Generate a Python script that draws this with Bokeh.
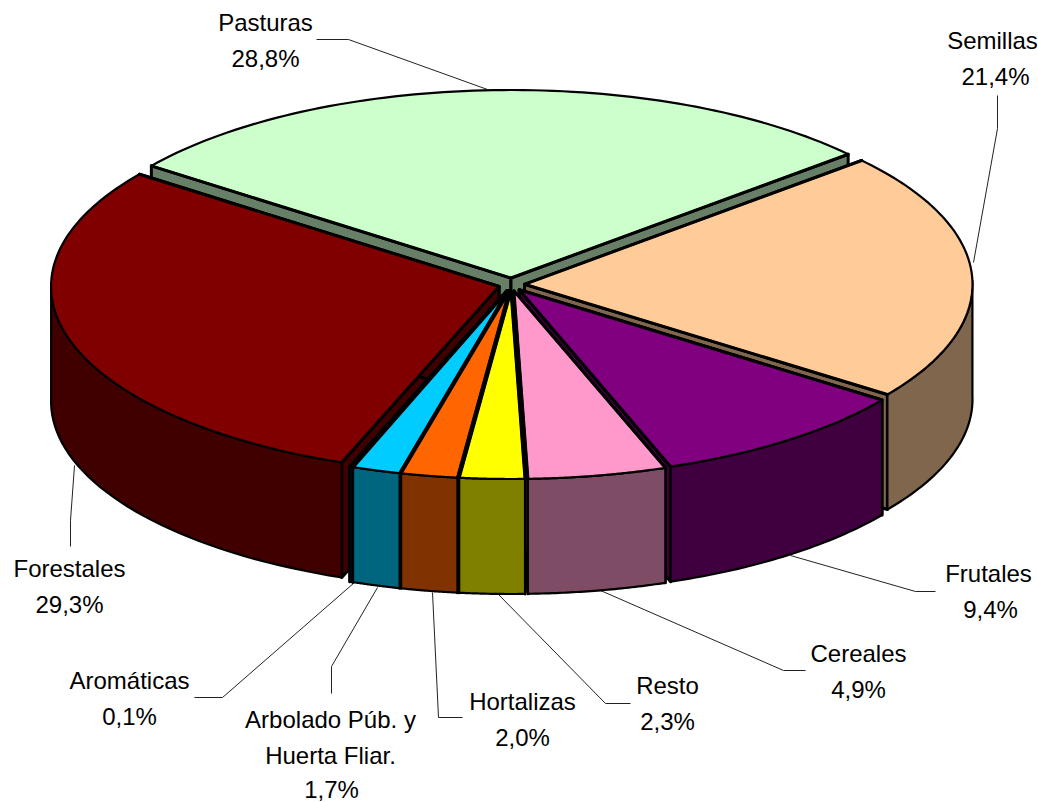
import math
from bokeh.plotting import figure
from bokeh.core.properties import value
from bokeh.embed import file_html
from bokeh.resources import INLINE

# ---- data
categories = ["Pasturas", "Semillas", "Frutales", "Cereales", "Resto",
              "Hortalizas", "Arbolado Púb. y Huerta Fliar.", "Aromáticas", "Forestales"]
shares = [28.8, 21.4, 9.4, 4.9, 2.3, 2.0, 1.7, 0.1, 29.3]
top_colors = ["#CCFFCC", "#FFCC99", "#800080", "#FF99CC", "#FFFF00",
              "#FF6600", "#00CCFF", "#0066CC", "#800000"]
side_colors = ["#667F66", "#7F664C", "#400040", "#7F4C66", "#808000",
               "#803300", "#006680", "#003366", "#400000"]
label_lines = ["Pasturas", "28,8%", "Semillas", "21,4%", "Frutales", "9,4%", "Cereales", "4,9%",
               "Resto", "2,3%", "Hortalizas", "2,0%", "Arbolado Púb. y", "Huerta Fliar.", "1,7%",
               "Aromáticas", "0,1%", "Forestales", "29,3%"]

# ---- layout
label_x = [265, 265, 992, 995, 988, 990, 858, 858, 667, 667, 522, 522, 330, 330, 331, 129, 129, 69, 69]
label_y = [22, 58, 40, 76, 573, 609, 653, 689, 685, 721, 701, 737, 719, 755, 789, 680, 716, 568, 604]
leaders = [
    ([316, 348, 487], [39, 39, 89]),
    ([997, 997, 973], [95, 128, 262]),
    ([935, 915, 790], [591, 591, 555]),
    ([805, 783, 600], [670, 670, 590]),
    ([630, 605, 497], [703, 703, 593]),
    ([462, 438, 432], [717, 717, 592]),
    ([331, 331, 377], [693, 666, 587]),
    ([194, 222, 354], [697, 697, 582]),
    ([70, 70, 74], [546, 520, 465]),
]
CX, CY, RX, RY, DEPTH = 511.0, 284.0, 448.0, 188.0, 115.0
EX, EY = 13.0, 6.5
START = 144.2     # degrees, slices run clockwise
PERSPECTIVE = 1.0  # degrees of angular foreshortening
ARC_W, RADIAL_W = 2.2, 3.0

total = sum(shares)
spans = []
a = START
for s in shares:
    b = a - 360.0 * s / total
    spans.append((a, b))
    a = b


def arc(ax, ay, a0, a1, n=80):
    pts = []
    for i in range(n + 1):
        d = a0 + (a1 - a0) * i / n
        t = math.radians(d + PERSPECTIVE * math.cos(math.radians(d)))
        pts.append((ax + RX * math.cos(t), ay - RY * math.sin(t)))
    return pts


xs, ys, fills, widths = [], [], [], []


def add(pts, color, width):
    xs.append([q[0] for q in pts])
    ys.append([q[1] for q in pts])
    fills.append(color)
    widths.append(width)


order = sorted(range(len(shares)),
               key=lambda i: -math.sin(math.radians((spans[i][0] + spans[i][1]) / 2)))
for i in order:
    a0, a1 = spans[i]
    mid = math.radians((a0 + a1) / 2)
    ax, ay = CX + EX * math.cos(mid), CY - EY * math.sin(mid)
    top = arc(ax, ay, a0, a1)
    # radial walls
    for e in (top[0], top[-1]):
        add([(ax, ay), e, (e[0], e[1] + DEPTH), (ax, ay + DEPTH)], side_colors[i], RADIAL_W)
    # outer wall: the front part of the arc only (sin <= 0)
    for r0, r1 in [(-180, 0), (-540, -360), (180, 360)]:
        u0, u1 = max(a1, r0), min(a0, r1)
        if u1 > u0:
            front = arc(ax, ay, u1, u0, 40)
            add(front + [(q[0], q[1] + DEPTH) for q in reversed(front)], side_colors[i], ARC_W)
    add([(ax, ay)] + top, top_colors[i], ARC_W)
    # heavier straight edges of the top face
    add([top[0], (ax, ay), top[-1], (ax, ay)], "#000000", RADIAL_W)

p = figure(width=1038, height=802, x_range=(0, 1038), y_range=(802, 0),
           toolbar_location=None, output_backend="svg",
           min_border=0, outline_line_color=None)
p.axis.visible = False
p.grid.visible = False
p.background_fill_color = "white"

for lx, ly in leaders:
    p.line(lx, ly, line_color="#222222", line_width=1)
p.patches(xs=xs, ys=ys, fill_color=fills, line_color="black", line_width=widths, line_join="round")
p.text(label_x, label_y, text=label_lines, text_font=value("Liberation Sans"),
       text_font_size="24px", text_align="center", text_baseline="middle", text_color="black")

open("out.html", "w").write(file_html(p, INLINE))
